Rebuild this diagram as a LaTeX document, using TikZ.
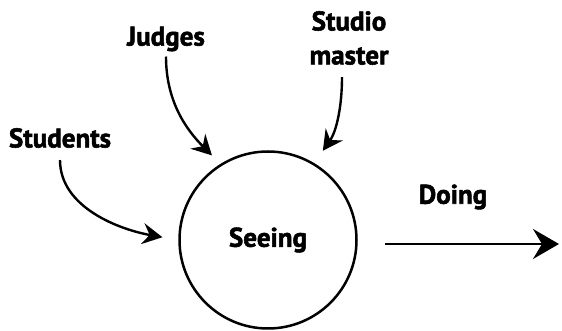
\documentclass[tikz,border=0pt]{standalone}
\usepackage{fontspec}
\setmainfont{PT Sans}[BoldFeatures={FakeBold=2}]
\usepackage{tikz}
\usetikzlibrary{arrows.meta, positioning}

\begin{document}
\begin{tikzpicture}[
    x=1pt, y=1pt,
    txt/.style={font=\fontsize{27}{34}\selectfont\bfseries, align=center, inner sep=2pt},
    circ/.style={draw, circle, line width=2.5pt, minimum size=177pt, inner sep=0pt},
    arrow/.style={-{Stealth[length=20pt, width=21pt, inset=7pt]}, line width=2.4pt},
    bigarrow/.style={-{Stealth[length=26pt, width=30pt, inset=9pt]}, line width=2.6pt}
]
    \useasboundingbox (0,0) rectangle (562,331);

    % Central circle
    \node[circ, txt] (seeing) at (268,91) {Seeing};

    % Who is looking
    \node[txt] (students) at (60,193) {Students};
    \node[txt] (judges) at (166,292) {Judges};
    \node[txt] (studio) at (349,293) {Studio\\master};

    % Outcome
    \node[txt] (doing) at (453,134) {Doing};
    \coordinate (doingend) at (559,87);

    % Arrows
    \draw[arrow, shorten <=10pt, shorten >=16pt] (students.south) to[out=-90, in=170] (seeing.west);
    \draw[arrow, shorten <=3pt, shorten >=12pt] (judges.south) to[out=-90, in=135] (seeing.122);
    \draw[arrow, shorten <=10pt, shorten >=15pt] ([xshift=-7pt]studio.south) to[out=-90, in=55] (seeing.59);
    \draw[bigarrow, shorten <=27pt] (seeing.east |- doingend) -- (doingend);

\end{tikzpicture}
\end{document}
